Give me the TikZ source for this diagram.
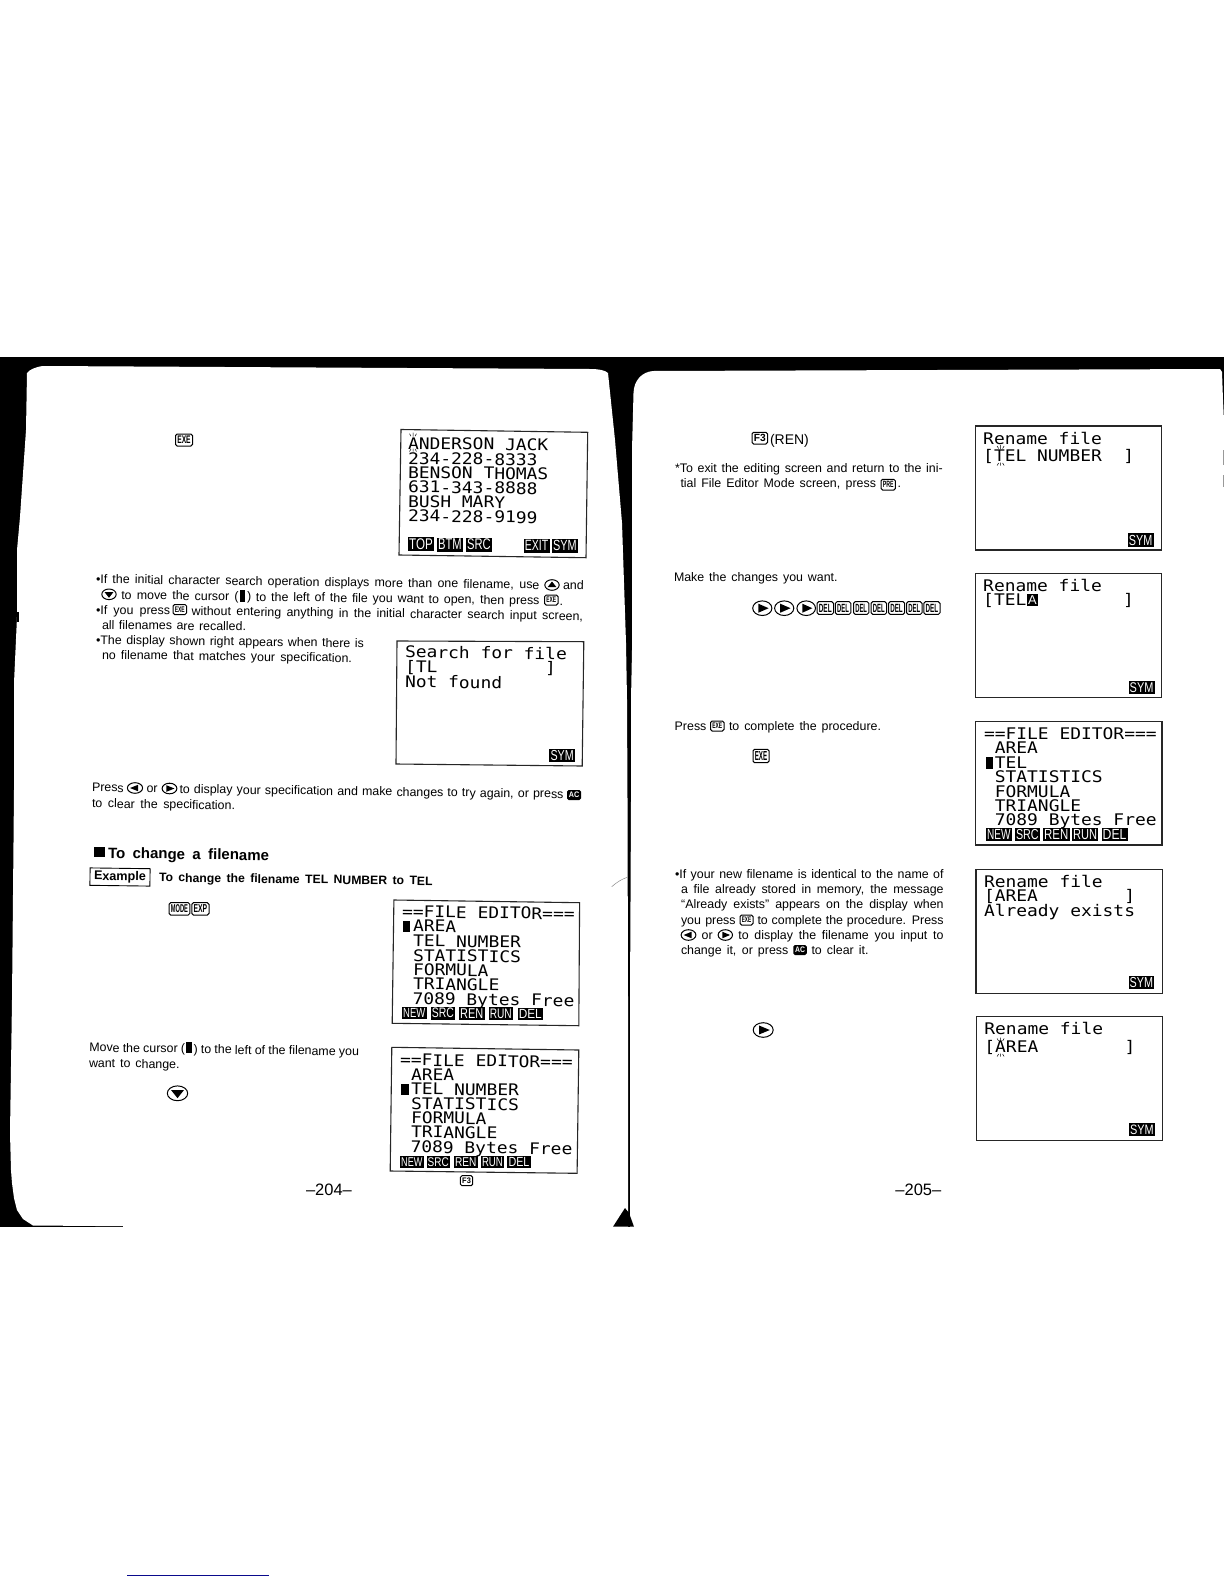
\documentclass[tikz,border=0pt]{standalone}
\usepackage{fontspec}
\usepackage{graphicx}
\setmainfont{Liberation Sans}
\newfontfamily\lcdfont[FakeStretch=1.12]{DejaVu Sans Mono}
\newcounter{nn}
\newcommand\segrot{0}
\tikzset{
  txt/.style={anchor=base west,inner sep=0pt,outer sep=0pt,font=\fontsize{12.4}{15}\selectfont},
  lcd/.style={anchor=base west,inner sep=0pt,outer sep=0pt,font=\fontsize{16}{16}\selectfont\lcdfont},
  softkey/.style={fill=black,text=white,inner sep=0pt,outer sep=0pt,rectangle},
  keycap/.style={draw=black,line width=1pt,rounded corners=1.6pt,inner sep=0pt,outer sep=0pt,rectangle,font=\bfseries},
  keyblack/.style={fill=black,text=white,rounded corners=1.6pt,inner sep=0pt,outer sep=0pt,rectangle,font=\bfseries},
  screenbox/.style={draw=black!85,line width=1.1pt,line join=miter},
  arrowkey/.style={draw=black,line width=1pt},
  tick/.style={draw=black,line width=0.5pt}
}
% text segment with a fixed width
\newcommand\seg[4]{\stepcounter{nn}\pgfmathsetmacro\segw{#2-#1}%
  \node[txt,rotate=\segrot] (n\thenn) at (#1,#3) {\makebox[\segw pt][s]{#4}};}
\newcommand\lcdline[3]{\stepcounter{nn}%
  \node[lcd,rotate=\segrot] (n\thenn) at (#1,#2) {#3};}
\newcommand\softk[5]{\stepcounter{nn}\pgfmathsetmacro\kkw{#2-#1}\pgfmathsetmacro\kkh{#4-#3}%
  \pgfmathsetmacro\kkx{(#1+#2)/2}\pgfmathsetmacro\kky{(#3+#4)/2}%
  \pgfmathsetmacro\kktw{\kkw-2.4}\pgfmathsetmacro\kkth{\kkh-3.2}%
  \node[softkey,minimum width=\kkw pt,minimum height=\kkh pt] (n\thenn) at (\kkx,\kky) {\resizebox{\kktw pt}{\kkth pt}{#5}};}
\newcommand\capk[6][keycap]{\stepcounter{nn}\pgfmathsetmacro\kkw{#3-#2}\pgfmathsetmacro\kkh{#5-#4}%
  \pgfmathsetmacro\kkx{(#2+#3)/2}\pgfmathsetmacro\kky{(#4+#5)/2}%
  \pgfmathsetmacro\kktw{\kkw-3.6}\pgfmathsetmacro\kkth{\kkh-4.4}%
  \node[#1,minimum width=\kkw pt,minimum height=\kkh pt] (n\thenn) at (\kkx,\kky) {\resizebox{\kktw pt}{\kkth pt}{#6}};}
% arrow key: centre, radii, direction
\newcommand\akey[6]{%
  \draw[arrowkey] (#1,#2) ellipse [x radius=#3,y radius=#4];
  \fill ({#1+#5*0.66*#3},{#2+#6*0.66*#4})
     -- ({#1-#5*0.42*#3+#6*0.62*#3},{#2-#6*0.42*#4+#5*0.62*#4})
     -- ({#1-#5*0.42*#3-#6*0.62*#3},{#2-#6*0.42*#4-#5*0.62*#4}) -- cycle;}
% blink ticks round a letter
\newcommand\blink[3]{%
  \draw[tick] (#1,#2-4) -- (#1,#2) (#1-3.5,#2-3) -- (#1-2,#2-.5) (#1+3.5,#2-3) -- (#1+2,#2-.5);
  \draw[tick] (#1,#3) -- (#1,#3+3) (#1-3.5,#3+3) -- (#1-2,#3+.5) (#1+3.5,#3+3) -- (#1+2,#3+.5);}
\begin{document}
\begin{tikzpicture}[x=1pt,y=-1pt]
\useasboundingbox (0,0) rectangle (1224,1584);
\fill[white] (0,0) rectangle (1224,1584);
% black band behind the two pages
\fill[black] (0,357) rectangle (1224,1226.7);
% left page
\fill[white] (43,366) .. controls (35,367) and (29,370) .. (27,373) -- (26,430) -- (20,517) -- (17,550)
  -- (17,617) -- (14,683) -- (14,790) -- (12,1000) -- (10,1133) -- (11,1170) -- (12,1183)
  -- (14,1198) -- (17,1210) -- (23,1219) -- (33,1225.5) -- (123,1226.2) -- (123,1228) -- (628,1228)
  -- (628,1000) -- (627.5,800) -- (627,700) -- (626,643) -- (622,523) -- (615,440) -- (608,373)
  .. controls (605,370) and (598,369) .. (590,369) -- cycle;
% right page
\fill[white] (653,371) .. controls (642,372) and (634,380) .. (633.5,393) -- (632,450) -- (632,650)
  -- (631,700) -- (631,800) -- (630,1000) -- (630,1228) -- (1224,1228) -- (1224,420) -- (1223,400)
  -- (1222,372) -- (1220,369) -- cycle;
\draw[black!40,line width=0.8pt] (1223.4,410) -- (1223.4,415) (1223.4,450) -- (1223.4,465) (1223.4,475) -- (1223.4,487);
% spine foot and stray scan marks
\fill[black] (625,1208) -- (613,1226.7) -- (634,1226.7) -- (629,1213) -- cycle;
\draw[black!45,line width=0.5pt] (611.7,886.7) .. controls (617,882) and (622,879) .. (627.3,877.3);
\fill[black] (17,612) rectangle (19,622);

%======================= LEFT PAGE =========================
\renewcommand\segrot{-0.75}
\capk{175.5}{192.5}{434}{446}{EXE}
% screen 1
\draw[screenbox] (401,429.5) -- (587.7,432.3) -- (586,557.7) -- (399,555) -- cycle;
\lcdline{408}{449}{ANDERSON JACK}
\lcdline{408}{464}{234-228-8333}
\lcdline{408}{478}{BENSON THOMAS}
\lcdline{408}{492.7}{631-343-8888}
\lcdline{408}{507}{BUSH MARY}
\lcdline{408}{521.7}{234-228-9199}
\blink{413}{436.7}{448.5}
\softk{408}{434}{537}{551}{TOP}
\softk{437}{463}{537.5}{551.5}{BTM}
\softk{466}{492}{537.5}{551.5}{SRC}
\softk{523.7}{549.5}{539}{552.5}{EXIT}
\softk{552}{578}{539}{552.5}{SYM}
% paragraph
\seg{96}{539.5}{583.3}{•If the initial character search operation displays more than one filename, use}
\akey{552}{585}{7.2}{5.3}{0}{-1}
\seg{563}{584}{589.3}{and}
\akey{109}{594.3}{7.2}{5.3}{0}{1}
\seg{121.3}{238.5}{599.2}{to move the cursor (}
\fill (239.5,590) rectangle (245,601.7);
\seg{247}{539.5}{600.9}{) to the left of the file you want to open, then press}
\capk{544.6}{558}{595}{605}{EXE}
\seg{559.5}{563}{605}{.}
\seg{96}{170}{614}{•If you press}
\capk{173}{186.6}{604.5}{614.5}{EXE}
\seg{191.7}{583}{615.2}{without entering anything in the initial character search input screen,}
\seg{102}{246}{629}{all filenames are recalled.}
\seg{96}{364}{644}{•The display shown right appears when there is}
\seg{102}{352}{659}{no filename that matches your specification.}
% screen 2
\draw[screenbox] (397,641) -- (583.8,641.7) -- (582.2,766) -- (396,764) -- cycle;
\lcdline{405}{657.7}{Search for file}
\lcdline{405}{672}{[TL~~~~~~~~~~]}
\lcdline{405}{687.3}{Not found}
\softk{549.4}{575}{749}{762.3}{SYM}
% press line
\seg{92}{124}{791.7}{Press}
\akey{135}{788}{7.6}{5.3}{-1}{0}
\seg{146.5}{158}{792}{or}
\akey{169.5}{788.5}{7.4}{5.3}{1}{0}
\seg{179.5}{563.5}{793.2}{to display your specification and make changes to try again, or press}
\capk[keyblack]{567}{581}{790}{800}{AC}
\seg{92}{235}{807.7}{to clear the specification.}
% heading
\fill (94,846.7) rectangle (105,857.3);
\stepcounter{nn}\node[txt,rotate=\segrot,font=\fontsize{15}{18}\selectfont\bfseries] (n\thenn) at (108,858.3) {\makebox[161pt][s]{To change a filename}};
% example
\stepcounter{nn}\node[draw=black,line width=.9pt,minimum width=60pt,minimum height=17.4pt,inner sep=0pt,rotate=\segrot,font=\fontsize{12.6}{15}\selectfont\bfseries] (n\thenn) at (120,877) {Example};
\stepcounter{nn}\node[txt,rotate=\segrot,font=\fontsize{12.2}{15}\selectfont\bfseries] (n\thenn) at (159,881.7) {\makebox[273.6pt][s]{To change the filename TEL NUMBER to TEL}};
\capk{169}{189.8}{902.7}{915}{MODE}
\capk{191.8}{209}{902.7}{915}{EXP}
% screen 3
\draw[screenbox] (393.9,900) -- (579.6,902.7) -- (578.8,1025.7) -- (392.2,1023.3) -- cycle;
\lcdline{402}{917.3}{==FILE EDITOR===}
\fill (402.9,920.5) rectangle (410.2,932);
\lcdline{413}{931.7}{AREA}
\lcdline{413}{946.7}{TEL NUMBER}
\lcdline{413}{961}{STATISTICS}
\lcdline{413}{975.3}{FORMULA}
\lcdline{413}{989.7}{TRIANGLE}
\lcdline{412.5}{1004.3}{7089 Bytes Free}
\softk{402}{426.5}{1006.7}{1019}{NEW}
\softk{430.6}{455}{1006.7}{1019.5}{SRC}
\softk{459}{484.5}{1007}{1020}{REN}
\softk{488.6}{513}{1007.3}{1020}{RUN}
\softk{517.6}{543}{1007.7}{1020}{DEL}
% move text
\seg{89.3}{185}{1051.7}{Move the cursor (}
\fill (186,1041.7) rectangle (192,1053.3);
\seg{193.5}{359}{1053.5}{) to the left of the filename you}
\seg{89}{179.6}{1067.3}{want to change.}
\akey{177.5}{1093.3}{10.2}{7.4}{0}{1}
% screen 4
\draw[screenbox] (391.8,1047.3) -- (578.8,1050) -- (577.1,1173.3) -- (390.2,1171) -- cycle;
\lcdline{400}{1065.7}{==FILE EDITOR===}
\lcdline{411}{1080}{AREA}
\fill (401,1083.5) rectangle (408.6,1095);
\lcdline{411}{1094.7}{TEL NUMBER}
\lcdline{411}{1109}{STATISTICS}
\lcdline{411}{1123.3}{FORMULA}
\lcdline{411}{1137.7}{TRIANGLE}
\lcdline{410.5}{1152.7}{7089 Bytes Free}
\softk{400}{423.7}{1155.7}{1167.7}{NEW}
\softk{426.5}{450}{1155.7}{1167.7}{SRC}
\softk{453.9}{477.6}{1155.7}{1167.7}{REN}
\softk{480.8}{504}{1155.7}{1168}{RUN}
\softk{507.3}{530.6}{1156}{1168.3}{DEL}
\capk{460.4}{472.7}{1175.7}{1185.7}{F3}
\renewcommand\segrot{0}
\stepcounter{nn}\node[txt,font=\fontsize{16.5}{18}\selectfont] (n\thenn) at (306,1195.7) {–204–};

%======================= RIGHT PAGE =========================
\capk{752}{767.5}{432.3}{444}{F3}
\stepcounter{nn}\node[txt,font=\fontsize{14}{16}\selectfont] (n\thenn) at (770,444) {(REN)};
\seg{675}{942.8}{472.7}{*To exit the editing screen and return to the ini-}
\seg{680.5}{876}{487.7}{tial File Editor Mode screen, press}
\capk{881}{895.4}{479.3}{490}{PRE}
\seg{897.5}{901}{487.7}{.}
% screen 5
\draw[screenbox] (975.2,426) rectangle (1161.2,550);
\lcdline{983.2}{444}{Rename file}
\lcdline{983.2}{461.7}{[TEL NUMBER~~]}
\blink{1000.6}{449}{462.5}
\softk{1127.7}{1153.5}{533.3}{546.7}{SYM}
% make changes
\seg{674}{837.6}{581.7}{Make the changes you want.}
\akey{762.3}{608.2}{9.6}{7.3}{1}{0}
\akey{784.2}{608.2}{9.6}{7.3}{1}{0}
\akey{806.2}{608.2}{9.3}{7.3}{1}{0}
\capk{817}{833.5}{601.7}{614.3}{DEL}
\capk{835.4}{850.8}{601.7}{614.3}{DEL}
\capk{853.5}{868.8}{601.7}{614.3}{DEL}
\capk{871}{886.5}{601.7}{614.3}{DEL}
\capk{888.5}{904.6}{601.7}{614.3}{DEL}
\capk{906.5}{922}{601.7}{614.3}{DEL}
\capk{923.8}{940}{601.7}{614.3}{DEL}
% screen 6
\draw[screenbox] (975.2,573.3) rectangle (1161.2,697.7);
\lcdline{983.2}{591.3}{Rename file}
\lcdline{983.2}{605.7}{[TEL}
\softk{1027}{1038}{594.3}{606.3}{A}
\lcdline{1123.2}{605.7}{]}
\softk{1128.5}{1154.6}{681}{694}{SYM}
% complete
\seg{674.7}{705.5}{730}{Press}
\capk{710.5}{724}{721}{731}{EXE}
\seg{729}{881}{730}{to complete the procedure.}
\capk{753}{769}{749.3}{762.7}{EXE}
% screen 7
\draw[screenbox] (975.5,721.7) rectangle (1162,845);
\lcdline{984}{739.3}{==FILE EDITOR===}
\lcdline{994.8}{753.7}{AREA}
\fill (986,757.3) rectangle (993,768.8);
\lcdline{994.8}{768.3}{TEL}
\lcdline{994.8}{782.7}{STATISTICS}
\lcdline{994.8}{797}{FORMULA}
\lcdline{994.8}{811.3}{TRIANGLE}
\lcdline{994.8}{825.7}{7089 Bytes Free}
\softk{986}{1011.8}{827.7}{841}{NEW}
\softk{1014.8}{1039.9}{827.7}{841}{SRC}
\softk{1043}{1069.5}{827.7}{841}{REN}
\softk{1072}{1098.4}{827.7}{841}{RUN}
\softk{1101.5}{1127.7}{827.7}{841}{DEL}
% already exists paragraph
\seg{675}{943.6}{878.3}{•If your new filename is identical to the name of}
\seg{681.2}{943.6}{893.3}{a file already stored in memory, the message}
\seg{681.2}{943.6}{908.7}{“Already exists” appears on the display when}
\seg{681}{735.6}{924}{you press}
\capk{740}{753}{915}{925}{EXE}
\seg{757.5}{943.6}{924}{to complete the procedure. Press}
\akey{688.5}{935}{7.4}{5.3}{-1}{0}
\seg{701.7}{712.5}{939.3}{or}
\akey{725.3}{935}{7.2}{5.3}{1}{0}
\seg{738.3}{943.6}{939.3}{to display the filename you input to}
\seg{681}{788.3}{954.3}{change it, or press}
\capk[keyblack]{793.3}{806.8}{945}{955}{AC}
\seg{811.5}{868.5}{954.3}{to clear it.}
% screen 8
\draw[screenbox] (976,869.3) rectangle (1162.4,993.3);
\lcdline{984}{887.3}{Rename file}
\lcdline{984}{901.7}{[AREA~~~~~~~~]}
\lcdline{984}{916}{Already exists}
\softk{1128.5}{1154.3}{976}{989.3}{SYM}
% right arrow and screen 9
\akey{763.2}{1030}{10}{7.3}{1}{0}
\draw[screenbox] (976.3,1016.7) rectangle (1162.8,1140.7);
\lcdline{984.4}{1034.3}{Rename file}
\lcdline{984.4}{1052.7}{[AREA~~~~~~~~]}
\blink{1000.6}{1041.5}{1053.5}
\softk{1129}{1155}{1123.3}{1136}{SYM}
\stepcounter{nn}\node[txt,font=\fontsize{16.5}{18}\selectfont] (n\thenn) at (895.4,1195.7) {–205–};
% blue rule near the foot of the sheet
\draw[draw={rgb,255:red,10;green,10;blue,140},line width=1pt] (127,1575) -- (269,1575);
\end{tikzpicture}
\end{document}
